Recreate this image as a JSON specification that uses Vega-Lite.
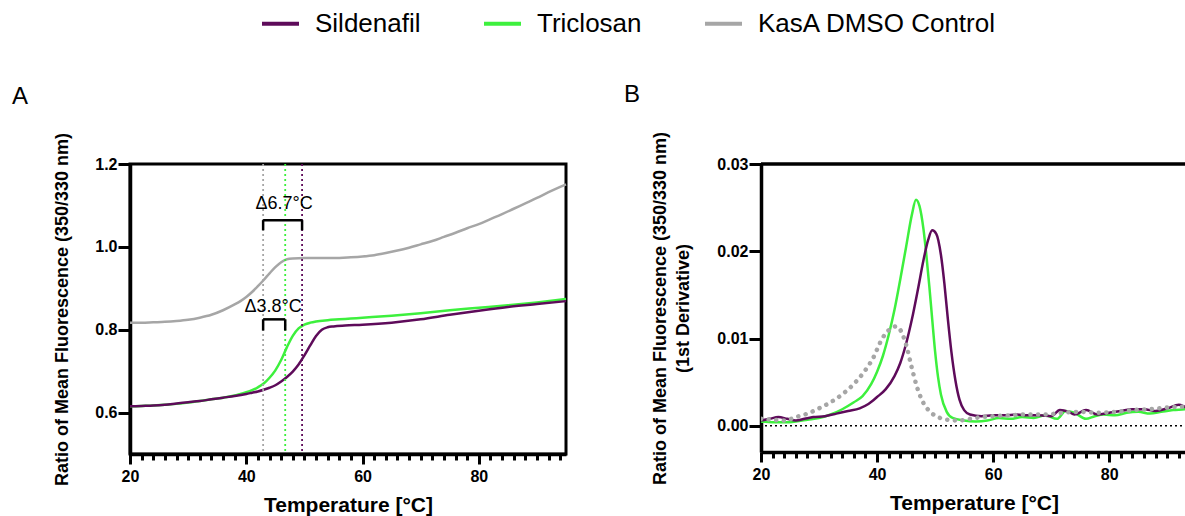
{
  "$schema": "https://vega.github.io/schema/vega-lite/v6.json",
  "padding": {"left": 10, "top": 1, "right": 0, "bottom": 0},
  "autosize": {"type": "pad"},
  "background": "white",
  "config": {
    "font": "Liberation Sans",
    "view": {"stroke": null},
    "axis": {
      "grid": false,
      "domainColor": "black",
      "domainWidth": 3.5,
      "tickColor": "black",
      "tickWidth": 3,
      "labelFont": "Liberation Sans",
      "labelFontWeight": "bold",
      "labelFontSize": 16,
      "labelColor": "black",
      "titleFont": "Liberation Sans",
      "titleFontWeight": "bold",
      "titleColor": "black",
      "labelOverlap": false,
      "labelFlush": false
    },
    "title": {"font": "Liberation Sans", "color": "black"}
  },
  "datasets": {
    "curvesA": [
      {"s": "KasA DMSO Control", "T": 20, "v": 0.817}, {"s": "KasA DMSO Control", "T": 22, "v": 0.817}, {"s": "KasA DMSO Control", "T": 24, "v": 0.818}, {"s": "KasA DMSO Control", "T": 26, "v": 0.819}, {"s": "KasA DMSO Control", "T": 28, "v": 0.821}, {"s": "KasA DMSO Control", "T": 30, "v": 0.824}, {"s": "KasA DMSO Control", "T": 32, "v": 0.829}, {"s": "KasA DMSO Control", "T": 34, "v": 0.836}, {"s": "KasA DMSO Control", "T": 36, "v": 0.847}, {"s": "KasA DMSO Control", "T": 38, "v": 0.861}, {"s": "KasA DMSO Control", "T": 39, "v": 0.869}, {"s": "KasA DMSO Control", "T": 40, "v": 0.879}, {"s": "KasA DMSO Control", "T": 41, "v": 0.891}, {"s": "KasA DMSO Control", "T": 42, "v": 0.905}, {"s": "KasA DMSO Control", "T": 43, "v": 0.92}, {"s": "KasA DMSO Control", "T": 44, "v": 0.936}, {"s": "KasA DMSO Control", "T": 45, "v": 0.951}, {"s": "KasA DMSO Control", "T": 46, "v": 0.963}, {"s": "KasA DMSO Control", "T": 47, "v": 0.97}, {"s": "KasA DMSO Control", "T": 48, "v": 0.972}, {"s": "KasA DMSO Control", "T": 50, "v": 0.973}, {"s": "KasA DMSO Control", "T": 52, "v": 0.973}, {"s": "KasA DMSO Control", "T": 55, "v": 0.973}, {"s": "KasA DMSO Control", "T": 58, "v": 0.975}, {"s": "KasA DMSO Control", "T": 60, "v": 0.977}, {"s": "KasA DMSO Control", "T": 62, "v": 0.98}, {"s": "KasA DMSO Control", "T": 64, "v": 0.985}, {"s": "KasA DMSO Control", "T": 66, "v": 0.991}, {"s": "KasA DMSO Control", "T": 68, "v": 0.998}, {"s": "KasA DMSO Control", "T": 70, "v": 1.006}, {"s": "KasA DMSO Control", "T": 72, "v": 1.014}, {"s": "KasA DMSO Control", "T": 74, "v": 1.024}, {"s": "KasA DMSO Control", "T": 76, "v": 1.034}, {"s": "KasA DMSO Control", "T": 78, "v": 1.045}, {"s": "KasA DMSO Control", "T": 80, "v": 1.055}, {"s": "KasA DMSO Control", "T": 82, "v": 1.067}, {"s": "KasA DMSO Control", "T": 84, "v": 1.079}, {"s": "KasA DMSO Control", "T": 86, "v": 1.092}, {"s": "KasA DMSO Control", "T": 88, "v": 1.105}, {"s": "KasA DMSO Control", "T": 90, "v": 1.118}, {"s": "KasA DMSO Control", "T": 92, "v": 1.132}, {"s": "KasA DMSO Control", "T": 94, "v": 1.145}, {"s": "KasA DMSO Control", "T": 95, "v": 1.151},
      {"s": "Triclosan", "T": 20, "v": 0.615}, {"s": "Triclosan", "T": 22, "v": 0.616}, {"s": "Triclosan", "T": 24, "v": 0.617}, {"s": "Triclosan", "T": 26, "v": 0.619}, {"s": "Triclosan", "T": 28, "v": 0.621}, {"s": "Triclosan", "T": 30, "v": 0.624}, {"s": "Triclosan", "T": 32, "v": 0.628}, {"s": "Triclosan", "T": 34, "v": 0.632}, {"s": "Triclosan", "T": 36, "v": 0.636}, {"s": "Triclosan", "T": 38, "v": 0.641}, {"s": "Triclosan", "T": 39, "v": 0.645}, {"s": "Triclosan", "T": 40, "v": 0.649}, {"s": "Triclosan", "T": 41, "v": 0.654}, {"s": "Triclosan", "T": 42, "v": 0.661}, {"s": "Triclosan", "T": 43, "v": 0.67}, {"s": "Triclosan", "T": 44, "v": 0.684}, {"s": "Triclosan", "T": 45, "v": 0.702}, {"s": "Triclosan", "T": 46, "v": 0.727}, {"s": "Triclosan", "T": 47, "v": 0.758}, {"s": "Triclosan", "T": 48, "v": 0.785}, {"s": "Triclosan", "T": 49, "v": 0.803}, {"s": "Triclosan", "T": 50, "v": 0.812}, {"s": "Triclosan", "T": 51, "v": 0.817}, {"s": "Triclosan", "T": 52, "v": 0.82}, {"s": "Triclosan", "T": 54, "v": 0.823}, {"s": "Triclosan", "T": 56, "v": 0.825}, {"s": "Triclosan", "T": 58, "v": 0.827}, {"s": "Triclosan", "T": 60, "v": 0.829}, {"s": "Triclosan", "T": 65, "v": 0.834}, {"s": "Triclosan", "T": 70, "v": 0.84}, {"s": "Triclosan", "T": 75, "v": 0.847}, {"s": "Triclosan", "T": 80, "v": 0.853}, {"s": "Triclosan", "T": 85, "v": 0.859}, {"s": "Triclosan", "T": 90, "v": 0.866}, {"s": "Triclosan", "T": 95, "v": 0.874},
      {"s": "Sildenafil", "T": 20, "v": 0.615}, {"s": "Sildenafil", "T": 22, "v": 0.616}, {"s": "Sildenafil", "T": 24, "v": 0.617}, {"s": "Sildenafil", "T": 26, "v": 0.619}, {"s": "Sildenafil", "T": 28, "v": 0.622}, {"s": "Sildenafil", "T": 30, "v": 0.625}, {"s": "Sildenafil", "T": 32, "v": 0.628}, {"s": "Sildenafil", "T": 34, "v": 0.632}, {"s": "Sildenafil", "T": 36, "v": 0.636}, {"s": "Sildenafil", "T": 38, "v": 0.64}, {"s": "Sildenafil", "T": 40, "v": 0.645}, {"s": "Sildenafil", "T": 41, "v": 0.648}, {"s": "Sildenafil", "T": 42, "v": 0.651}, {"s": "Sildenafil", "T": 43, "v": 0.655}, {"s": "Sildenafil", "T": 44, "v": 0.66}, {"s": "Sildenafil", "T": 45, "v": 0.666}, {"s": "Sildenafil", "T": 46, "v": 0.675}, {"s": "Sildenafil", "T": 47, "v": 0.686}, {"s": "Sildenafil", "T": 48, "v": 0.699}, {"s": "Sildenafil", "T": 49, "v": 0.716}, {"s": "Sildenafil", "T": 50, "v": 0.738}, {"s": "Sildenafil", "T": 51, "v": 0.762}, {"s": "Sildenafil", "T": 52, "v": 0.785}, {"s": "Sildenafil", "T": 53, "v": 0.8}, {"s": "Sildenafil", "T": 54, "v": 0.806}, {"s": "Sildenafil", "T": 55, "v": 0.808}, {"s": "Sildenafil", "T": 57, "v": 0.81}, {"s": "Sildenafil", "T": 60, "v": 0.812}, {"s": "Sildenafil", "T": 65, "v": 0.817}, {"s": "Sildenafil", "T": 70, "v": 0.825}, {"s": "Sildenafil", "T": 75, "v": 0.836}, {"s": "Sildenafil", "T": 80, "v": 0.846}, {"s": "Sildenafil", "T": 85, "v": 0.855}, {"s": "Sildenafil", "T": 90, "v": 0.862}, {"s": "Sildenafil", "T": 95, "v": 0.869}
    ],
    "curvesB": [
      {"s": "KasA DMSO Control", "T": 20, "v": 0.0008}, {"s": "KasA DMSO Control", "T": 22, "v": 0.0007}, {"s": "KasA DMSO Control", "T": 24, "v": 0.0006}, {"s": "KasA DMSO Control", "T": 26, "v": 0.001}, {"s": "KasA DMSO Control", "T": 28, "v": 0.0014}, {"s": "KasA DMSO Control", "T": 30, "v": 0.002}, {"s": "KasA DMSO Control", "T": 32, "v": 0.0027}, {"s": "KasA DMSO Control", "T": 34, "v": 0.0036}, {"s": "KasA DMSO Control", "T": 36, "v": 0.0048}, {"s": "KasA DMSO Control", "T": 38, "v": 0.0064}, {"s": "KasA DMSO Control", "T": 39.5, "v": 0.008}, {"s": "KasA DMSO Control", "T": 40.5, "v": 0.0095}, {"s": "KasA DMSO Control", "T": 41.5, "v": 0.0106}, {"s": "KasA DMSO Control", "T": 42.5, "v": 0.0112}, {"s": "KasA DMSO Control", "T": 43.3, "v": 0.0114}, {"s": "KasA DMSO Control", "T": 44, "v": 0.011}, {"s": "KasA DMSO Control", "T": 45, "v": 0.0093}, {"s": "KasA DMSO Control", "T": 46, "v": 0.0066}, {"s": "KasA DMSO Control", "T": 47, "v": 0.0042}, {"s": "KasA DMSO Control", "T": 48, "v": 0.0026}, {"s": "KasA DMSO Control", "T": 49, "v": 0.0017}, {"s": "KasA DMSO Control", "T": 50.5, "v": 0.001}, {"s": "KasA DMSO Control", "T": 52, "v": 0.0007}, {"s": "KasA DMSO Control", "T": 54, "v": 0.0006}, {"s": "KasA DMSO Control", "T": 56, "v": 0.0008}, {"s": "KasA DMSO Control", "T": 58, "v": 0.001}, {"s": "KasA DMSO Control", "T": 60, "v": 0.0011}, {"s": "KasA DMSO Control", "T": 63, "v": 0.0012}, {"s": "KasA DMSO Control", "T": 66, "v": 0.0013}, {"s": "KasA DMSO Control", "T": 69, "v": 0.0013}, {"s": "KasA DMSO Control", "T": 72, "v": 0.0015}, {"s": "KasA DMSO Control", "T": 75, "v": 0.0016}, {"s": "KasA DMSO Control", "T": 78, "v": 0.0015}, {"s": "KasA DMSO Control", "T": 81, "v": 0.0016}, {"s": "KasA DMSO Control", "T": 84, "v": 0.0018}, {"s": "KasA DMSO Control", "T": 87, "v": 0.0019}, {"s": "KasA DMSO Control", "T": 90, "v": 0.0021}, {"s": "KasA DMSO Control", "T": 93, "v": 0.0022}, {"s": "KasA DMSO Control", "T": 95, "v": 0.0023},
      {"s": "Triclosan", "T": 20, "v": 0.0005}, {"s": "Triclosan", "T": 22, "v": 0.0004}, {"s": "Triclosan", "T": 24, "v": 0.0004}, {"s": "Triclosan", "T": 26, "v": 0.0005}, {"s": "Triclosan", "T": 28, "v": 0.0007}, {"s": "Triclosan", "T": 30, "v": 0.0009}, {"s": "Triclosan", "T": 32, "v": 0.0013}, {"s": "Triclosan", "T": 34, "v": 0.0019}, {"s": "Triclosan", "T": 36, "v": 0.0027}, {"s": "Triclosan", "T": 37.5, "v": 0.0034}, {"s": "Triclosan", "T": 39, "v": 0.0048}, {"s": "Triclosan", "T": 40, "v": 0.0062}, {"s": "Triclosan", "T": 41, "v": 0.008}, {"s": "Triclosan", "T": 42, "v": 0.0104}, {"s": "Triclosan", "T": 43, "v": 0.0133}, {"s": "Triclosan", "T": 44, "v": 0.0168}, {"s": "Triclosan", "T": 45, "v": 0.0205}, {"s": "Triclosan", "T": 46, "v": 0.0242}, {"s": "Triclosan", "T": 46.7, "v": 0.0259}, {"s": "Triclosan", "T": 47.3, "v": 0.0252}, {"s": "Triclosan", "T": 48, "v": 0.0225}, {"s": "Triclosan", "T": 48.5, "v": 0.0195}, {"s": "Triclosan", "T": 49, "v": 0.016}, {"s": "Triclosan", "T": 49.5, "v": 0.0122}, {"s": "Triclosan", "T": 50, "v": 0.0085}, {"s": "Triclosan", "T": 50.5, "v": 0.0056}, {"s": "Triclosan", "T": 51, "v": 0.0036}, {"s": "Triclosan", "T": 52, "v": 0.0016}, {"s": "Triclosan", "T": 53, "v": 0.0009}, {"s": "Triclosan", "T": 55, "v": 0.0006}, {"s": "Triclosan", "T": 57, "v": 0.0005}, {"s": "Triclosan", "T": 59, "v": 0.0006}, {"s": "Triclosan", "T": 61, "v": 0.0009}, {"s": "Triclosan", "T": 63, "v": 0.0008}, {"s": "Triclosan", "T": 65, "v": 0.001}, {"s": "Triclosan", "T": 67, "v": 0.0009}, {"s": "Triclosan", "T": 69, "v": 0.0012}, {"s": "Triclosan", "T": 71, "v": 0.0008}, {"s": "Triclosan", "T": 72.5, "v": 0.0017}, {"s": "Triclosan", "T": 74, "v": 0.0015}, {"s": "Triclosan", "T": 76, "v": 0.0008}, {"s": "Triclosan", "T": 77.5, "v": 0.0011}, {"s": "Triclosan", "T": 79, "v": 0.0013}, {"s": "Triclosan", "T": 81, "v": 0.0012}, {"s": "Triclosan", "T": 83, "v": 0.0015}, {"s": "Triclosan", "T": 85, "v": 0.0016}, {"s": "Triclosan", "T": 87, "v": 0.0014}, {"s": "Triclosan", "T": 89, "v": 0.0016}, {"s": "Triclosan", "T": 91, "v": 0.0018}, {"s": "Triclosan", "T": 93, "v": 0.0019}, {"s": "Triclosan", "T": 95, "v": 0.0021},
      {"s": "Sildenafil", "T": 20, "v": 0.0006}, {"s": "Sildenafil", "T": 21.5, "v": 0.0008}, {"s": "Sildenafil", "T": 23, "v": 0.001}, {"s": "Sildenafil", "T": 24.5, "v": 0.0008}, {"s": "Sildenafil", "T": 26, "v": 0.0006}, {"s": "Sildenafil", "T": 27.5, "v": 0.0008}, {"s": "Sildenafil", "T": 29, "v": 0.001}, {"s": "Sildenafil", "T": 31, "v": 0.0011}, {"s": "Sildenafil", "T": 33, "v": 0.0014}, {"s": "Sildenafil", "T": 35, "v": 0.0017}, {"s": "Sildenafil", "T": 37, "v": 0.002}, {"s": "Sildenafil", "T": 38.5, "v": 0.0025}, {"s": "Sildenafil", "T": 40, "v": 0.0033}, {"s": "Sildenafil", "T": 41.5, "v": 0.0042}, {"s": "Sildenafil", "T": 43, "v": 0.0057}, {"s": "Sildenafil", "T": 44, "v": 0.0072}, {"s": "Sildenafil", "T": 45, "v": 0.0094}, {"s": "Sildenafil", "T": 46, "v": 0.0122}, {"s": "Sildenafil", "T": 47, "v": 0.0155}, {"s": "Sildenafil", "T": 48, "v": 0.019}, {"s": "Sildenafil", "T": 48.8, "v": 0.0213}, {"s": "Sildenafil", "T": 49.5, "v": 0.0224}, {"s": "Sildenafil", "T": 50.2, "v": 0.022}, {"s": "Sildenafil", "T": 51, "v": 0.0196}, {"s": "Sildenafil", "T": 51.6, "v": 0.0163}, {"s": "Sildenafil", "T": 52.2, "v": 0.0122}, {"s": "Sildenafil", "T": 52.8, "v": 0.0085}, {"s": "Sildenafil", "T": 53.5, "v": 0.0052}, {"s": "Sildenafil", "T": 54.2, "v": 0.003}, {"s": "Sildenafil", "T": 55, "v": 0.0018}, {"s": "Sildenafil", "T": 56, "v": 0.0013}, {"s": "Sildenafil", "T": 58, "v": 0.0011}, {"s": "Sildenafil", "T": 60, "v": 0.0012}, {"s": "Sildenafil", "T": 62, "v": 0.0012}, {"s": "Sildenafil", "T": 64, "v": 0.0013}, {"s": "Sildenafil", "T": 66, "v": 0.0012}, {"s": "Sildenafil", "T": 68, "v": 0.0012}, {"s": "Sildenafil", "T": 70, "v": 0.0011}, {"s": "Sildenafil", "T": 71.5, "v": 0.0018}, {"s": "Sildenafil", "T": 73, "v": 0.0016}, {"s": "Sildenafil", "T": 74, "v": 0.0013}, {"s": "Sildenafil", "T": 76, "v": 0.0018}, {"s": "Sildenafil", "T": 78, "v": 0.0013}, {"s": "Sildenafil", "T": 80, "v": 0.0015}, {"s": "Sildenafil", "T": 82, "v": 0.0017}, {"s": "Sildenafil", "T": 84, "v": 0.0019}, {"s": "Sildenafil", "T": 86, "v": 0.0019}, {"s": "Sildenafil", "T": 88, "v": 0.0017}, {"s": "Sildenafil", "T": 90, "v": 0.002}, {"s": "Sildenafil", "T": 92, "v": 0.0024}, {"s": "Sildenafil", "T": 93.5, "v": 0.0021}, {"s": "Sildenafil", "T": 95, "v": 0.0021}
    ],
    "tm": [
      {"s": "KasA DMSO Control", "T": 42.9},
      {"s": "Triclosan", "T": 46.7},
      {"s": "Sildenafil", "T": 49.6}
    ],
    "brackets": [
      {"x1": 42.9, "x2": 49.6, "y1": 1.0645, "y2": 1.0645},
      {"x1": 42.9, "x2": 42.9, "y1": 1.0645, "y2": 1.04},
      {"x1": 49.6, "x2": 49.6, "y1": 1.0645, "y2": 1.04},
      {"x1": 42.9, "x2": 46.7, "y1": 0.825, "y2": 0.825},
      {"x1": 42.9, "x2": 42.9, "y1": 0.825, "y2": 0.798},
      {"x1": 46.7, "x2": 46.7, "y1": 0.825, "y2": 0.798}
    ],
    "deltas": [
      {"x": 46.5, "y": 1.091, "label": "Δ6.7°C"},
      {"x": 44.6, "y": 0.842, "label": "Δ3.8°C"}
    ],
    "frameB": [{"v": 0.03}],
    "zeroB": [{"v": 0}]
  },
  "bounds": "flush",
  "spacing": 195,
  "resolve": {"scale": {"color": "shared"}, "legend": {"color": "independent"}},
  "hconcat": [
    {
      "width": 436,
      "height": 290,
      "title": {"text": "A", "anchor": "start", "frame": "group", "fontSize": 24, "fontWeight": "normal", "dx": -118, "offset": -130, "baseline": "bottom"},
      "view": {"stroke": "black", "strokeWidth": 3},
      "resolve": {"axis": {"x": "independent"}},
      "layer": [
        {
          "data": {"name": "curvesA"},
          "mark": {"type": "line", "strokeWidth": 2.5, "interpolate": "monotone"},
          "encoding": {
            "x": {"field": "T", "type": "quantitative", "scale": {"domain": [20, 95], "nice": false, "zero": false},
              "axis": {"title": "Temperature [°C]", "titleFontSize": 21, "titlePadding": 10, "orient": "bottom",
                "values": [20, 40, 60, 80], "tickSize": 10, "labelOverlap": false, "labelPadding": 4}},
            "y": {"field": "v", "type": "quantitative", "scale": {"domain": [0.5, 1.2], "nice": false, "zero": false},
              "axis": {"title": "Ratio of Mean Fluorescence (350/330 nm)", "titleFontSize": 18, "titlePadding": 23,
                "values": [0.6, 0.8, 1.0, 1.2], "format": ".1f", "tickSize": 12, "labelPadding": 1}},
            "color": {"field": "s", "type": "nominal",
              "scale": {"domain": ["Sildenafil", "Triclosan", "KasA DMSO Control"], "range": ["#5e0b5a", "#3df03d", "#a6a6a6"]},
              "legend": {"orient": "none", "legendX": 130, "legendY": -161, "direction": "horizontal", "title": null,
                "symbolType": "stroke", "symbolSize": 1369, "symbolStrokeWidth": 4, "labelFontSize": 26, "labelFont": "Liberation Sans",
                "labelColor": "black", "labelOffset": 14, "labelLimit": 400, "columnPadding": 55, "padding": 0}}
          }
        },
        {
          "data": {"name": "tm"},
          "mark": {"type": "rule", "strokeDash": [2, 3], "strokeWidth": 1.8},
          "encoding": {
            "x": {"field": "T", "type": "quantitative",
              "axis": {"orient": "bottom", "title": null, "labels": false, "domain": false, "tickSize": 6,
                "values": [20,22,24,26,28,30,32,34,36,38,40,42,44,46,48,50,52,54,56,58,60,62,64,66,68,70,72,74,76,78,80,82,84,86,88,90,92,94]}},
            "color": {"field": "s", "type": "nominal", "legend": null}
          }
        },
        {
          "data": {"name": "brackets"},
          "mark": {"type": "rule", "color": "black", "strokeWidth": 2.5},
          "encoding": {
            "x": {"field": "x1", "type": "quantitative", "axis": null},
            "x2": {"field": "x2"},
            "y": {"field": "y1", "type": "quantitative"},
            "y2": {"field": "y2"}
          }
        },
        {
          "data": {"name": "deltas"},
          "mark": {"type": "text", "fontSize": 18, "align": "center", "baseline": "alphabetic", "color": "black", "font": "Liberation Sans"},
          "encoding": {
            "x": {"field": "x", "type": "quantitative", "axis": null},
            "y": {"field": "y", "type": "quantitative"},
            "text": {"field": "label"}
          }
        }
      ]
    },
    {
      "width": 426,
      "height": 288,
      "title": {"text": "B", "anchor": "start", "frame": "group", "fontSize": 24, "fontWeight": "normal", "dx": -137, "offset": 0, "baseline": "bottom"},
      "resolve": {"axis": {"x": "independent"}},
      "layer": [
        {
          "data": {"name": "curvesB"},
          "transform": [{"filter": "datum.s !== 'KasA DMSO Control'"}],
          "mark": {"type": "line", "strokeWidth": 2.5, "interpolate": "monotone", "clip": true},
          "encoding": {
            "x": {"field": "T", "type": "quantitative", "scale": {"domain": [20, 93.4], "nice": false, "zero": false},
              "axis": {"title": "Temperature [°C]", "titleFontSize": 21, "titlePadding": 10, "orient": "bottom",
                "values": [20, 40, 60, 80], "tickSize": 10, "labelOverlap": false, "labelPadding": 4}},
            "y": {"field": "v", "type": "quantitative", "scale": {"domain": [-0.003, 0.03], "nice": false, "zero": false},
              "axis": {"title": ["Ratio of Mean Fluorescence (350/330 nm)", "(1st Derivative)"], "titleFontSize": 18, "titleLineHeight": 23, "titlePadding": 24,
                "values": [0, 0.01, 0.02, 0.03], "format": ".2f", "tickSize": 12, "labelPadding": 1}},
            "color": {"field": "s", "type": "nominal", "legend": null}
          }
        },
        {
          "data": {"name": "curvesB"},
          "transform": [{"filter": "datum.s === 'KasA DMSO Control'"}],
          "mark": {"type": "line", "strokeWidth": 4.5, "strokeDash": [0.1, 7.5], "strokeCap": "round", "interpolate": "monotone", "clip": true},
          "encoding": {
            "x": {"field": "T", "type": "quantitative",
              "axis": {"orient": "bottom", "title": null, "labels": false, "domain": false, "tickSize": 6,
                "values": [20,22,24,26,28,30,32,34,36,38,40,42,44,46,48,50,52,54,56,58,60,62,64,66,68,70,72,74,76,78,80,82,84,86,88,90,92]}},
            "y": {"field": "v", "type": "quantitative"},
            "color": {"field": "s", "type": "nominal", "legend": null}
          }
        },
        {
          "data": {"name": "frameB"},
          "mark": {"type": "rule", "color": "black", "strokeWidth": 3.5},
          "encoding": {"y": {"field": "v", "type": "quantitative"}}
        },
        {
          "data": {"name": "zeroB"},
          "mark": {"type": "rule", "color": "black", "strokeWidth": 1.5, "strokeDash": [2, 3]},
          "encoding": {"y": {"field": "v", "type": "quantitative"}}
        }
      ]
    }
  ]
}
